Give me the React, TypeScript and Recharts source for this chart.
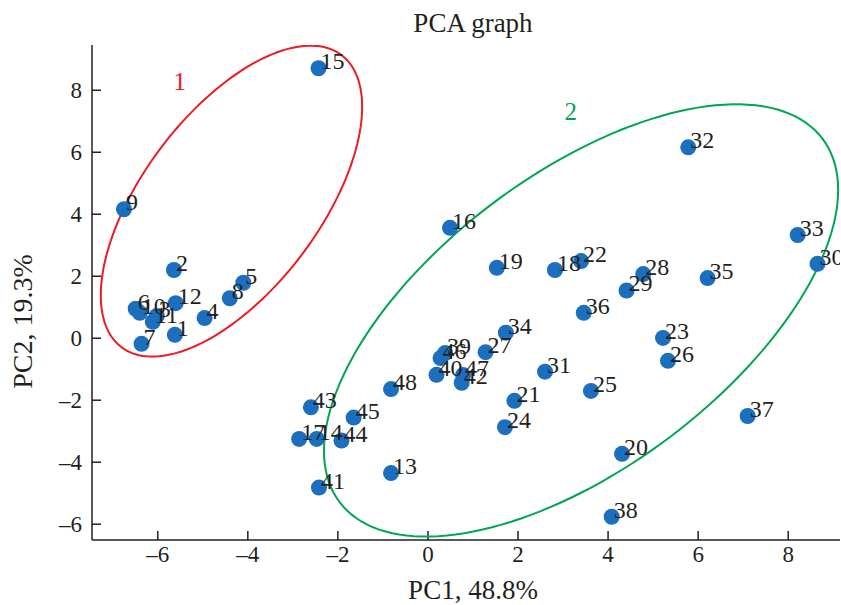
import React from 'react';
import { ScatterChart, Scatter, XAxis, YAxis, ReferenceDot } from 'recharts';

const sampleIds = [
  1, 2, 3, 4, 5, 6, 7, 8, 9, 10, 11, 12, 13, 14, 15, 16, 17, 18, 19, 20, 21, 22, 23, 24,
  25, 26, 27, 28, 29, 30, 31, 32, 33, 34, 35, 36, 37, 38, 39, 40, 41, 42, 43, 44, 45, 46, 47, 48,
];
const pc1Values = [
  -5.62, -5.64, -6.02, -4.96, -4.1, -6.49, -6.36, -4.4, -6.75, -6.4, -6.11, -5.6, -0.82, -2.47,
  -2.43, 0.49, -2.86, 2.82, 1.53, 4.31, 1.92, 3.4, 5.22, 1.71, 3.62, 5.33, 1.28, 4.78, 4.41,
  8.65, 2.6, 5.78, 8.21, 1.73, 6.21, 3.46, 7.1, 4.08, 0.38, 0.19, -2.42, 0.75, -2.6, -1.92,
  -1.65, 0.28, 0.78, -0.82,
];
const pc2Values = [
  0.11, 2.2, 0.72, 0.65, 1.79, 0.95, -0.18, 1.29, 4.16, 0.82, 0.53, 1.13, -4.35, -3.25, 8.71,
  3.56, -3.25, 2.2, 2.27, -3.73, -2.02, 2.49, 0.01, -2.87, -1.7, -0.73, -0.45, 2.07, 1.54, 2.4,
  -1.08, 6.16, 3.33, 0.18, 1.94, 0.82, -2.51, -5.76, -0.48, -1.18, -4.82, -1.44, -2.23, -3.3,
  -2.56, -0.64, -1.19, -1.64,
];
const xTicks = [-6, -4, -2, 0, 2, 4, 6, 8];
const yTicks = [-6, -4, -2, 0, 2, 4, 6, 8];

const groupNames = ['1', '2'];
const groupColors = ['#ec1c24', '#00a651'];
const ellipseCenterX = [-4.363, 3.4];
const ellipseCenterY = [4.423, 0.574];
const ellipseHalfWidth = [2.902, 5.709];
const ellipseHalfHeight = [5.016, 6.974];
const ellipseCorr = [0.6058, 0.6036];
const groupLabelX = [-5.51, 3.17];
const groupLabelY = [8.27, 7.3];

const points = sampleIds.map((id, i) => ({ x: pc1Values[i], y: pc2Values[i], name: String(id) }));

const ellipseOutline = (g: number) => {
  const out: { x: number; y: number }[] = [];
  const n = 160;
  const r = ellipseCorr[g];
  const s = Math.sqrt(1 - r * r);
  for (let k = 0; k <= n; k++) {
    const t = (2 * Math.PI * k) / n;
    out.push({
      x: ellipseCenterX[g] + ellipseHalfWidth[g] * Math.cos(t),
      y: ellipseCenterY[g] + ellipseHalfHeight[g] * (r * Math.cos(t) + s * Math.sin(t)),
    });
  }
  return out;
};

const FONT = '"Liberation Serif", "Times New Roman", serif';
const fmt = (v: number) => (v < 0 ? '\u2013' + Math.abs(v) : String(v));

const Dot = (p: any) => <circle cx={p.cx} cy={p.cy} r={8} fill="#1b6fbe" />;
const Lbl = (p: any) => (
  <text x={p.cx + 2} y={p.cy + 1} fontSize={24} fill="#231f20" fontFamily={FONT}>
    {p.payload.name}
  </text>
);
const Empty = () => <g />;

export default function App() {
  return (
    <div style={{ position: 'absolute', left: 0, top: 0, width: 841, height: 605, background: '#fff', fontFamily: FONT }}>
      <div
        style={{
          position: 'absolute',
          left: 373,
          top: 9,
          width: 200,
          textAlign: 'center',
          fontSize: 27,
          lineHeight: '28px',
          color: '#231f20',
        }}
      >
        PCA graph
      </div>
      <ScatterChart width={841} height={605} margin={{ top: 45, right: 1, bottom: 25, left: 32 }}>
        <XAxis
          type="number"
          dataKey="x"
          domain={[-7.46, 9.15]}
          ticks={xTicks}
          allowDataOverflow
          height={40}
          tickSize={-9}
          tickMargin={15}
          tickFormatter={fmt}
          axisLine={{ stroke: '#231f20', strokeWidth: 1.5 }}
          tickLine={{ stroke: '#231f20', strokeWidth: 1.5 }}
          tick={{ fill: '#231f20', fontSize: 23, fontFamily: FONT }}
          label={{
            content: (p: any) => {
              const vb = p.viewBox;
              return (
                <text x={vb.x + vb.width / 2 + 7} y={vb.y + 59} textAnchor="middle" fontSize={27} fill="#231f20" fontFamily={FONT}>
                  PC1, 48.8%
                </text>
              );
            },
          }}
        />
        <YAxis
          type="number"
          dataKey="y"
          domain={[-6.51, 9.46]}
          ticks={yTicks}
          allowDataOverflow
          width={60}
          tickSize={-9}
          tickMargin={19}
          tickFormatter={fmt}
          axisLine={{ stroke: '#231f20', strokeWidth: 1.5 }}
          tickLine={{ stroke: '#231f20', strokeWidth: 1.5 }}
          tick={{ fill: '#231f20', fontSize: 23, fontFamily: FONT }}
          label={{
            content: (p: any) => {
              const vb = p.viewBox;
              const cx = vb.x - 10;
              const cy = vb.y + vb.height / 2 + 29;
              return (
                <text
                  x={cx}
                  y={cy}
                  textAnchor="middle"
                  dominantBaseline="central"
                  transform={`rotate(-90 ${cx} ${cy})`}
                  fontSize={28}
                  fill="#231f20"
                  fontFamily={FONT}
                >
                  PC2, 19.3%
                </text>
              );
            },
          }}
        />
        {groupNames.map((g, i) => (
          <Scatter
            key={'ell' + g}
            data={ellipseOutline(i)}
            line={{ stroke: groupColors[i], strokeWidth: 2 }}
            lineType="joint"
            shape={Empty}
            isAnimationActive={false}
            legendType="none"
          />
        ))}
        <Scatter data={points} shape={Dot} isAnimationActive={false} />
        <Scatter data={points} shape={Lbl} isAnimationActive={false} />
        {groupNames.map((g, i) => (
          <ReferenceDot
            key={'gl' + g}
            x={groupLabelX[i]}
            y={groupLabelY[i]}
            r={0}
            ifOverflow="visible"
            shape={(p: any) => (
              <text x={p.cx} y={p.cy} textAnchor="middle" dominantBaseline="central" fontSize={25} fill={groupColors[i]} fontFamily={FONT}>
                {g}
              </text>
            )}
          />
        ))}
      </ScatterChart>
    </div>
  );
}
